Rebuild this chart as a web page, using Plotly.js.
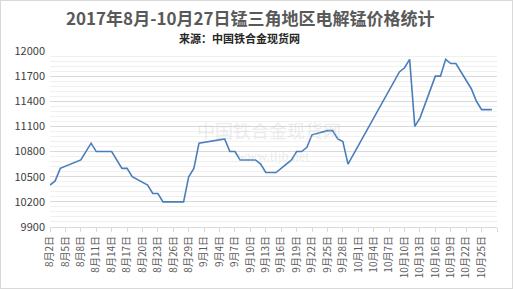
<!DOCTYPE html>
<html>
<head>
<meta charset="utf-8">
<script src="https://cdn.plot.ly/plotly-3.0.1.min.js"></script>
<style>
html,body{margin:0;padding:0;background:#fff;}
#chart{width:511px;height:287px;border:1px solid #d9d9d9;}
</style>
</head>
<body>
<div id="chart"></div>
<script>
// Observed price points (date, yuan/ton)
const dates = ['2017-08-02','2017-08-03','2017-08-04','2017-08-08','2017-08-10','2017-08-11','2017-08-14','2017-08-16','2017-08-17','2017-08-18','2017-08-21','2017-08-22','2017-08-23','2017-08-24','2017-08-28','2017-08-29','2017-08-30','2017-08-31','2017-09-05','2017-09-06','2017-09-07','2017-09-08','2017-09-11','2017-09-12','2017-09-13','2017-09-15','2017-09-18','2017-09-19','2017-09-20','2017-09-21','2017-09-22','2017-09-25','2017-09-26','2017-09-27','2017-09-28','2017-09-29','2017-10-09','2017-10-10','2017-10-11','2017-10-12','2017-10-13','2017-10-16','2017-10-17','2017-10-18','2017-10-19','2017-10-20','2017-10-23','2017-10-24','2017-10-25','2017-10-27'];
const prices = [10400,10450,10600,10700,10900,10800,10800,10600,10600,10500,10400,10300,10300,10200,10200,10500,10600,10900,10950,10800,10800,10700,10700,10650,10550,10550,10700,10800,10800,10850,11000,11050,11050,10950,10920,10650,11750,11800,11900,11100,11200,11700,11700,11900,11850,11850,11550,11400,11300,11300];

// Axis tick labels (every 3 days)
const tickDates = ['2017-08-02','2017-08-05','2017-08-08','2017-08-11','2017-08-14','2017-08-17','2017-08-20','2017-08-23','2017-08-26','2017-08-29','2017-09-01','2017-09-04','2017-09-07','2017-09-10','2017-09-13','2017-09-16','2017-09-19','2017-09-22','2017-09-25','2017-09-28','2017-10-01','2017-10-04','2017-10-07','2017-10-10','2017-10-13','2017-10-16','2017-10-19','2017-10-22','2017-10-25','2017-10-28'];
const tickLabels = ['8月2日','8月5日','8月8日','8月11日','8月14日','8月17日','8月20日','8月23日','8月26日','8月29日','9月1日','9月4日','9月7日','9月10日','9月13日','9月16日','9月19日','9月22日','9月25日','9月28日','10月1日','10月4日','10月7日','10月10日','10月13日','10月16日','10月19日','10月22日','10月25日',''];
const yTicks = [9900,10200,10500,10800,11100,11400,11700,12000];
const yLabels = ['9900','10200','10500','10800','11100','11400','11700','12000'];

const titleText = '2017年8月-10月27日锰三角地区电解锰价格统计';
const subtitleText = '来源：中国铁合金现货网';

const font = '"Noto Sans CJK SC", "Microsoft YaHei", sans-serif';

const trace = {
  x: dates, y: prices, type: 'scatter', mode: 'lines',
  line: {color: '#4a7ebb', width: 1.6},
  hoverinfo: 'x+y'
};

const W = 511, H = 287;
const PW = W - 49 - 15, PH = H - 50 - 61;
const layout = {
  width: W, height: H,
  margin: {l: 49, r: 15, t: 50, b: 61},
  paper_bgcolor: '#ffffff', plot_bgcolor: '#ffffff',
  showlegend: false,
  font: {family: font, color: '#595959'},
  xaxis: {
    type: 'date',
    range: ['2017-08-02', '2017-10-28'],
    tickmode: 'array', tickvals: tickDates, ticktext: tickLabels,
    tickangle: -90,
    tickfont: {size: 10, color: '#595959', family: font},
    showgrid: false, zeroline: false,
    showline: true, linecolor: '#d9d9d9', linewidth: 1,
    ticks: 'outside', ticklen: 4, tickcolor: '#d9d9d9', tickwidth: 1,
    fixedrange: true
  },
  yaxis: {
    range: [9900, 12000],
    tickmode: 'array', tickvals: yTicks, ticktext: yLabels,
    tickfont: {size: 11, color: '#404040', family: font},
    showgrid: true, gridcolor: '#d9d9d9', gridwidth: 1,
    minor: {dtick: 60, tick0: 9900, showgrid: true, gridcolor: '#f0f0f0', gridwidth: 1},
    zeroline: false, showline: false, ticks: '',
    ticklabelstandoff: 4,
    fixedrange: true
  },
  annotations: [
    {text: '<b>' + titleText + '</b>', xref: 'paper', yref: 'paper',
     x: (249.5 - 49) / PW, y: 1 + (50 - 16) / PH, xanchor: 'center', yanchor: 'middle',
     showarrow: false, font: {size: 17, color: '#595959', family: font}},
    {text: '<b>' + subtitleText + '</b>', xref: 'paper', yref: 'paper',
     x: (238.5 - 49) / PW, y: 1 + (50 - 37) / PH, xanchor: 'center', yanchor: 'middle',
     showarrow: false, font: {size: 11, color: '#262626', family: font}},
    {text: '中国铁合金现货网', xref: 'paper', yref: 'paper',
     x: (268 - 49) / PW, y: 1 - (129 - 50) / PH, xanchor: 'center', yanchor: 'middle',
     showarrow: false, font: {size: 18, color: 'rgba(200,200,200,0.35)', family: font}},
    {text: 'www.tljb.net', xref: 'paper', yref: 'paper',
     x: (272 - 49) / PW, y: 1 - (155 - 50) / PH, xanchor: 'center', yanchor: 'middle',
     showarrow: false, font: {size: 14, color: 'rgba(200,200,200,0.35)', family: '"Liberation Serif", serif'}}
  ]
};

Plotly.newPlot('chart', [trace], layout, {displayModeBar: false, staticPlot: true});
</script>
</body>
</html>
